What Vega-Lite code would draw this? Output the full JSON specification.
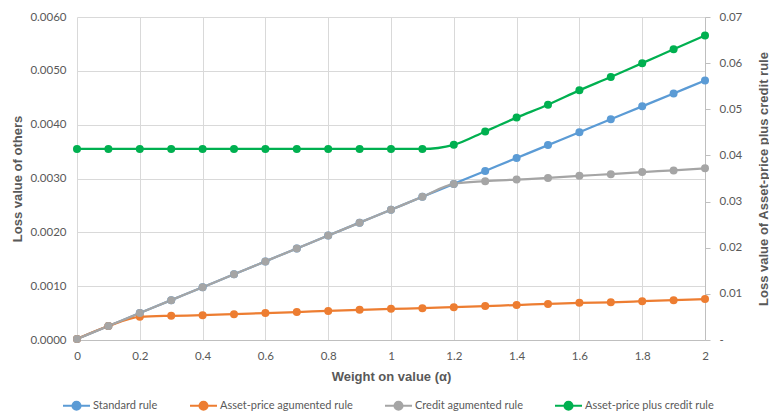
{
  "$schema": "https://vega.github.io/schema/vega-lite/v6.json",
  "autosize": {"type": "none"},
  "width": 628,
  "height": 323,
  "padding": {"left": 77, "top": 17, "right": 64, "bottom": 74},
  "background": "white",
  "config": {
    "view": {"stroke": null},
    "font": "Lato",
    "axis": {"labelColor": "#595959", "labelFontSize": 11.5, "labelFont": "Lato", "titleColor": "#595959", "titleFont": "Liberation Sans", "titleFontSize": 13, "titleFontWeight": "bold", "gridColor": "#d9d9d9", "gridWidth": 1, "domainColor": "#bfbfbf", "tickColor": "#bfbfbf"}
  },
  "data": {"values": [
    {"a":0,"s":"Standard rule","v":0.00002},{"a":0.1,"s":"Standard rule","v":0.00026},{"a":0.2,"s":"Standard rule","v":0.0005},{"a":0.3,"s":"Standard rule","v":0.00074},{"a":0.4,"s":"Standard rule","v":0.00098},{"a":0.5,"s":"Standard rule","v":0.00122},{"a":0.6,"s":"Standard rule","v":0.00146},{"a":0.7,"s":"Standard rule","v":0.0017},{"a":0.8,"s":"Standard rule","v":0.00194},{"a":0.9,"s":"Standard rule","v":0.00218},{"a":1.0,"s":"Standard rule","v":0.00242},{"a":1.1,"s":"Standard rule","v":0.00266},{"a":1.2,"s":"Standard rule","v":0.0029},{"a":1.3,"s":"Standard rule","v":0.00314},{"a":1.4,"s":"Standard rule","v":0.00338},{"a":1.5,"s":"Standard rule","v":0.00362},{"a":1.6,"s":"Standard rule","v":0.00386},{"a":1.7,"s":"Standard rule","v":0.0041},{"a":1.8,"s":"Standard rule","v":0.00434},{"a":1.9,"s":"Standard rule","v":0.00458},{"a":2.0,"s":"Standard rule","v":0.00482},
    {"a":0,"s":"Asset-price agumented rule","v":0.00002},{"a":0.1,"s":"Asset-price agumented rule","v":0.00026},{"a":0.2,"s":"Asset-price agumented rule","v":0.00043},{"a":0.3,"s":"Asset-price agumented rule","v":0.00045},{"a":0.4,"s":"Asset-price agumented rule","v":0.00046},{"a":0.5,"s":"Asset-price agumented rule","v":0.00048},{"a":0.6,"s":"Asset-price agumented rule","v":0.0005},{"a":0.7,"s":"Asset-price agumented rule","v":0.00052},{"a":0.8,"s":"Asset-price agumented rule","v":0.00054},{"a":0.9,"s":"Asset-price agumented rule","v":0.00056},{"a":1.0,"s":"Asset-price agumented rule","v":0.00058},{"a":1.1,"s":"Asset-price agumented rule","v":0.00059},{"a":1.2,"s":"Asset-price agumented rule","v":0.00061},{"a":1.3,"s":"Asset-price agumented rule","v":0.00063},{"a":1.4,"s":"Asset-price agumented rule","v":0.00065},{"a":1.5,"s":"Asset-price agumented rule","v":0.00067},{"a":1.6,"s":"Asset-price agumented rule","v":0.00069},{"a":1.7,"s":"Asset-price agumented rule","v":0.0007},{"a":1.8,"s":"Asset-price agumented rule","v":0.00072},{"a":1.9,"s":"Asset-price agumented rule","v":0.00074},{"a":2.0,"s":"Asset-price agumented rule","v":0.00076},
    {"a":0,"s":"Credit agumented rule","v":0.00002},{"a":0.1,"s":"Credit agumented rule","v":0.00026},{"a":0.2,"s":"Credit agumented rule","v":0.0005},{"a":0.3,"s":"Credit agumented rule","v":0.00074},{"a":0.4,"s":"Credit agumented rule","v":0.00098},{"a":0.5,"s":"Credit agumented rule","v":0.00122},{"a":0.6,"s":"Credit agumented rule","v":0.00146},{"a":0.7,"s":"Credit agumented rule","v":0.0017},{"a":0.8,"s":"Credit agumented rule","v":0.00194},{"a":0.9,"s":"Credit agumented rule","v":0.00218},{"a":1.0,"s":"Credit agumented rule","v":0.00242},{"a":1.1,"s":"Credit agumented rule","v":0.00266},{"a":1.2,"s":"Credit agumented rule","v":0.0029},{"a":1.3,"s":"Credit agumented rule","v":0.00295},{"a":1.4,"s":"Credit agumented rule","v":0.00298},{"a":1.5,"s":"Credit agumented rule","v":0.00301},{"a":1.6,"s":"Credit agumented rule","v":0.00305},{"a":1.7,"s":"Credit agumented rule","v":0.00308},{"a":1.8,"s":"Credit agumented rule","v":0.00312},{"a":1.9,"s":"Credit agumented rule","v":0.00315},{"a":2.0,"s":"Credit agumented rule","v":0.00319},
    {"a":0,"s":"Asset-price plus credit rule","v":0.0414},{"a":0.1,"s":"Asset-price plus credit rule","v":0.0414},{"a":0.2,"s":"Asset-price plus credit rule","v":0.0414},{"a":0.3,"s":"Asset-price plus credit rule","v":0.0414},{"a":0.4,"s":"Asset-price plus credit rule","v":0.0414},{"a":0.5,"s":"Asset-price plus credit rule","v":0.0414},{"a":0.6,"s":"Asset-price plus credit rule","v":0.0414},{"a":0.7,"s":"Asset-price plus credit rule","v":0.0414},{"a":0.8,"s":"Asset-price plus credit rule","v":0.0414},{"a":0.9,"s":"Asset-price plus credit rule","v":0.0414},{"a":1.0,"s":"Asset-price plus credit rule","v":0.0414},{"a":1.1,"s":"Asset-price plus credit rule","v":0.0414},{"a":1.2,"s":"Asset-price plus credit rule","v":0.0423},{"a":1.3,"s":"Asset-price plus credit rule","v":0.0452},{"a":1.4,"s":"Asset-price plus credit rule","v":0.0482},{"a":1.5,"s":"Asset-price plus credit rule","v":0.051},{"a":1.6,"s":"Asset-price plus credit rule","v":0.0541},{"a":1.7,"s":"Asset-price plus credit rule","v":0.057},{"a":1.8,"s":"Asset-price plus credit rule","v":0.06},{"a":1.9,"s":"Asset-price plus credit rule","v":0.063},{"a":2.0,"s":"Asset-price plus credit rule","v":0.066}
  ]},
  "encoding": {
    "x": {"field": "a", "type": "quantitative", "scale": {"domain": [0, 2], "nice": false},
      "axis": {"title": "Weight on value (α)", "values": [0,0.2,0.4,0.6,0.8,1,1.2,1.4,1.6,1.8,2], "format": ".1~f", "ticks": false, "labelPadding": 10, "titleY": 36, "titleBaseline": "middle", "domain": true, "labelFlush": false}},
    "color": {"field": "s", "type": "nominal",
      "scale": {"domain": ["Standard rule", "Asset-price agumented rule", "Credit agumented rule", "Asset-price plus credit rule"], "range": ["#5b9bd5", "#ed7d31", "#a5a5a5", "#00b050"]},
      "legend": {"title": null, "orient": "none", "direction": "horizontal", "legendX": -15, "legendY": 374,
        "symbolType": "M-1,0L1,0M0.3,0A0.3,0.3,0,1,1,-0.3,0A0.3,0.3,0,1,1,0.3,0", "symbolSize": 729, "symbolStrokeWidth": 2,
        "labelFont": "Lato", "labelFontSize": 11, "labelColor": "#595959", "labelOffset": 2, "columnPadding": 28,
        "encode": {"symbols": {"update": {"fill": {"signal": "scale('color', datum.value)"}, "stroke": {"signal": "scale('color', datum.value)"}, "opacity": {"value": 1}}}}}}
  },
  "layer": [
    {
      "transform": [{"filter": "datum.s !== 'Asset-price plus credit rule'"}],
      "encoding": {
        "y": {"field": "v", "type": "quantitative", "scale": {"domain": [0, 0.006], "nice": false},
          "axis": {"title": "Loss value of others", "values": [0,0.001,0.002,0.003,0.004,0.005,0.006], "format": ".4f", "ticks": false, "domain": false, "labelPadding": 11, "titleX": -60, "titleY": 161.5, "titleAngle": 270, "titleBaseline": "middle", "titleAlign": "center"}}
      },
      "layer": [
        {"mark": {"type": "line", "strokeWidth": 2.25, "interpolate": "monotone"}},
        {"mark": {"type": "point", "filled": true, "opacity": 1, "size": 64}}
      ]
    },
    {
      "transform": [{"filter": "datum.s === 'Asset-price plus credit rule'"}],
      "encoding": {
        "y": {"field": "v", "type": "quantitative", "scale": {"domain": [0, 0.07], "nice": false},
          "axis": {"orient": "right", "title": "Loss value of Asset-price plus credit rule", "values": [0,0.01,0.02,0.03,0.04,0.05,0.06,0.07], "labelExpr": "datum.value == 0 ? '-' : format(datum.value, '.2f')", "grid": false, "ticks": true, "tickSize": 5, "domain": true, "labelPadding": 9, "titleX": 58, "titleY": 161.5, "titleAngle": 270, "titleBaseline": "middle", "titleAlign": "center"}}
      },
      "layer": [
        {"mark": {"type": "line", "strokeWidth": 2.25, "interpolate": "monotone"}},
        {"mark": {"type": "point", "filled": true, "opacity": 1, "size": 64}}
      ]
    }
  ],
  "resolve": {"scale": {"y": "independent"}}
}
